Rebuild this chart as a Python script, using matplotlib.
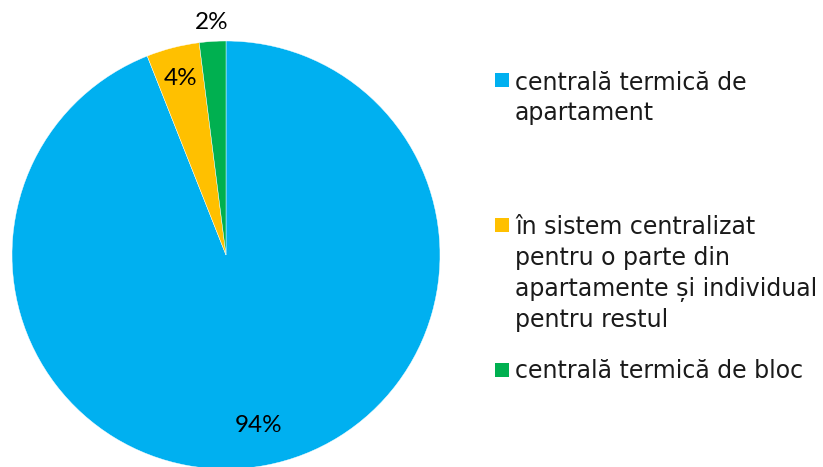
import matplotlib
matplotlib.use("Agg")
import matplotlib.pyplot as plt
import matplotlib.patches as mpatches
import numpy as np

categories = ["centrală termică de apartament",
              "în sistem centralizat pentru o parte din apartamente și individual pentru restul",
              "centrală termică de bloc"]
values = [94, 4, 2]
labels = ["94%", "4%", "2%"]
colors = ["#00B0F0", "#FFC000", "#00B050"]
legend_lines = [["centrală termică de", "apartament"],
                ["în sistem centralizat", "pentru o parte din", "apartamente și individual", "pentru restul"],
                ["centrală termică de bloc"]]

W, H = 823, 467
fig = plt.figure(figsize=(W / 100, H / 100), dpi=100)
cx, cy, r = 226, 255, 214
ax = fig.add_axes([(cx - r) / W, (H - cy - r) / H, 2 * r / W, 2 * r / H])
wedges, _ = ax.pie(values, colors=colors, startangle=90, counterclock=False,
                   wedgeprops=dict(edgecolor="white", linewidth=0.3))
ax.set_xlim(-1, 1)
ax.set_ylim(-1, 1)
ax.set_aspect("equal")
ax.axis("off")

dists = [0.81, 0.85, 1.09]
for w, lab, d in zip(wedges, labels, dists):
    ang = np.deg2rad((w.theta1 + w.theta2) / 2)
    ax.text(d * np.cos(ang), d * np.sin(ang), lab, ha="center", va="center",
            fontsize=17.5, family="Lato", color="black", clip_on=False)

sq_tops = [73, 218, 363]
base_first = [90, 234, 378]
spacing = [30, 31, 31]
for i, (lines, col) in enumerate(zip(legend_lines, colors)):
    fig.patches.append(mpatches.Rectangle((495 / W, 1 - (sq_tops[i] + 14) / H), 14 / W, 14 / H,
                                          transform=fig.transFigure, facecolor=col,
                                          edgecolor="none"))
    for j, line in enumerate(lines):
        y = base_first[i] + j * spacing[i]
        fig.text(515 / W, 1 - y / H, line, ha="left", va="baseline",
                 fontsize=17, family="DejaVu Sans", color="#1a1a1a")

fig.savefig("out.png", dpi=100)
